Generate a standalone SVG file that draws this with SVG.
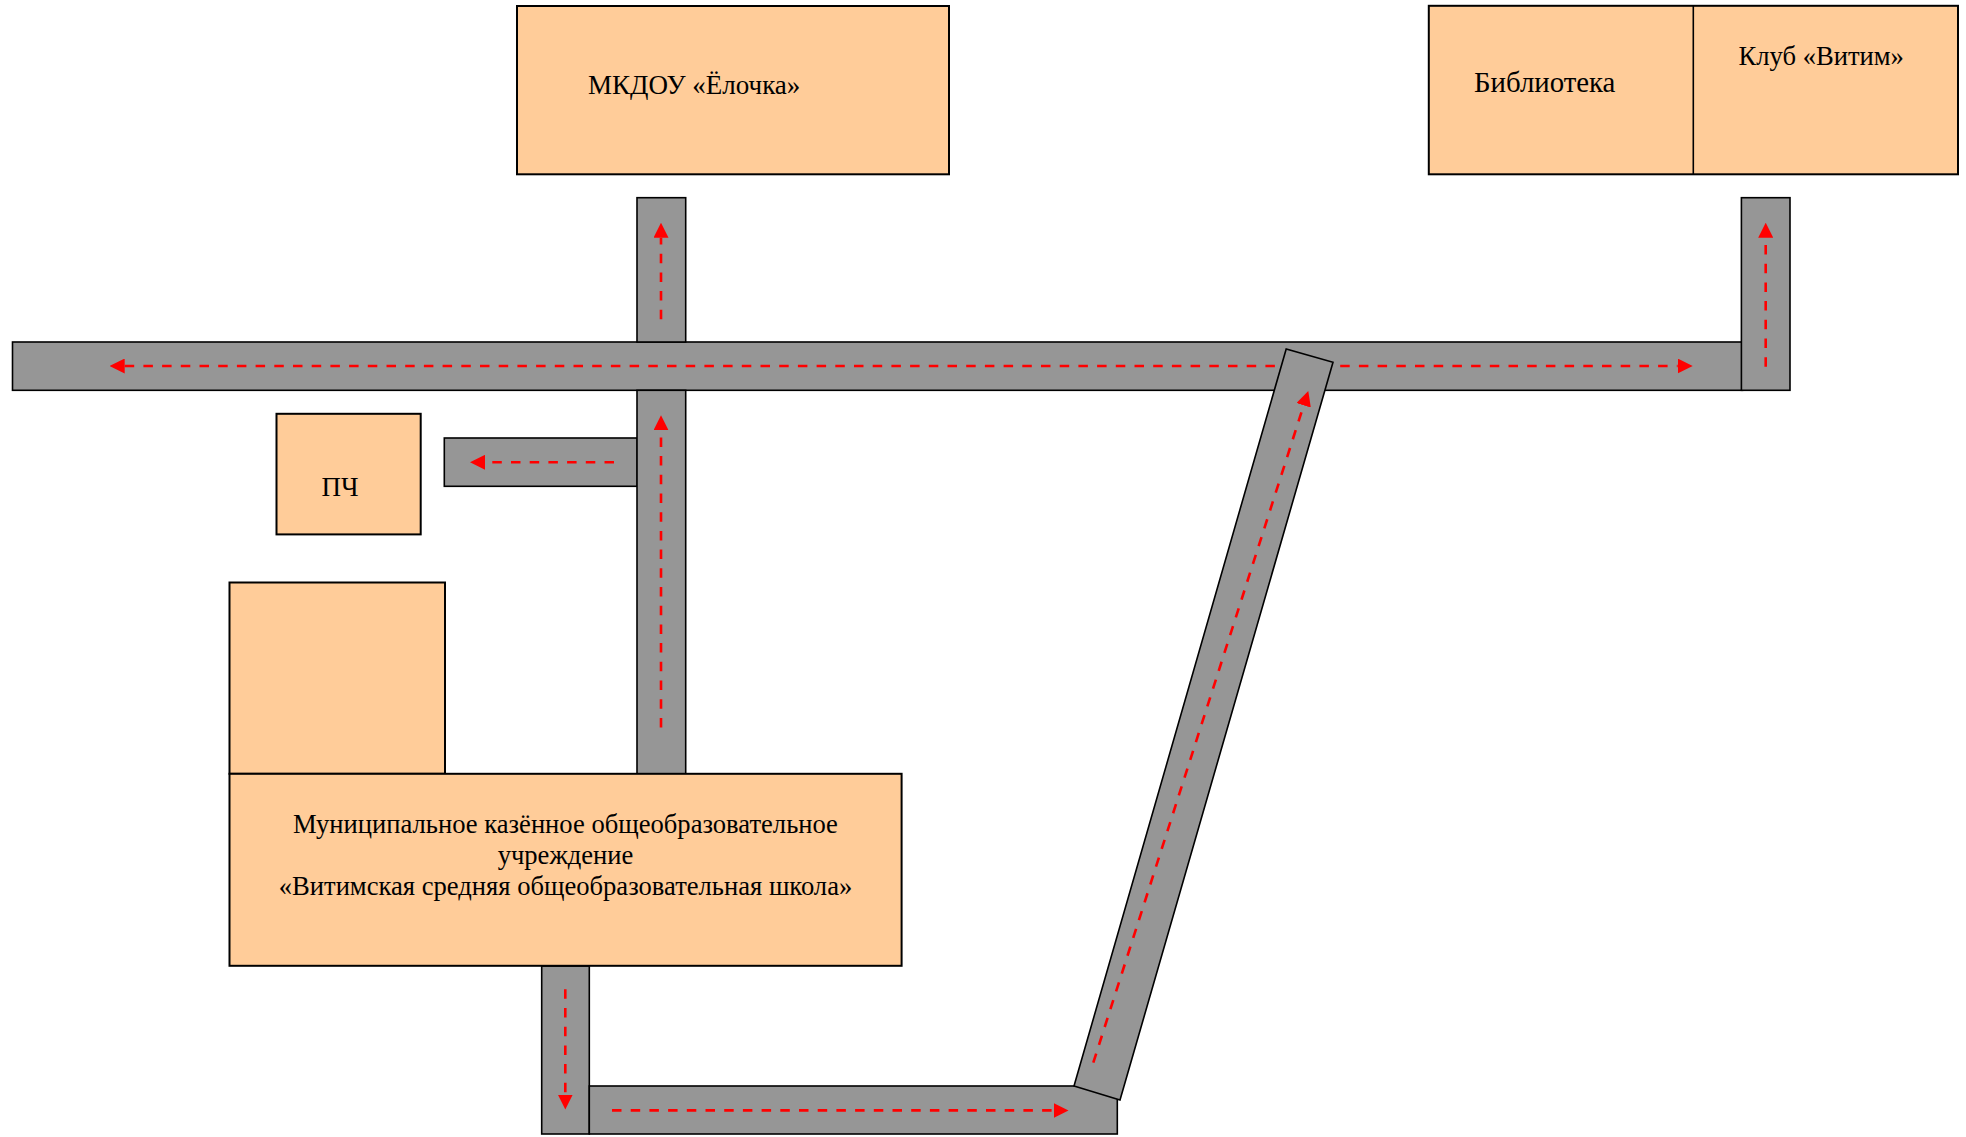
<svg xmlns="http://www.w3.org/2000/svg" width="1966" height="1137" viewBox="0 0 1966 1137">
<style>
.bld{fill:#FFCC99;stroke:#000;stroke-width:2}
.road{fill:#969696;stroke:#000;stroke-width:1.6}
.lbl{font-family:"Liberation Serif","Times New Roman",serif;fill:#000}
.dash{fill:none;stroke:#FF0000;stroke-width:2.6;stroke-dasharray:9.5 9.2}
</style>
<defs>
<marker id="ah" viewBox="0 0 15 15" refX="0" refY="7.5" markerWidth="15" markerHeight="15" markerUnits="userSpaceOnUse" orient="auto-start-reverse">
<path d="M0,0 L15,7.5 L0,15 z" fill="#FF0000"/>
</marker>
</defs>
<rect x="0" y="0" width="1966" height="1137" fill="#fff"/>
<g id="connectors">
<rect class="road" x="12.5" y="342" width="1730" height="48.3"/>
<line class="dash" x1="124.7" y1="366" x2="1677.7" y2="366" marker-start="url(#ah)" marker-end="url(#ah)"/>
<rect class="road" x="637" y="197.7" width="48.7" height="144.3"/>
<rect class="road" x="444.3" y="438" width="193" height="48.3"/>
<rect class="road" x="637" y="390.3" width="48.7" height="383.5"/>
<rect class="road" x="1741.4" y="197.7" width="48.6" height="192.6"/>
<rect class="road" x="541.7" y="966" width="47.6" height="168"/>
<rect class="road" x="589.3" y="1086" width="528" height="48"/>
<polygon class="road" points="1074,1086 1286.2,349 1333,362.3 1120,1100"/>
<line class="dash" x1="661" y1="319.3" x2="661" y2="237.7" marker-end="url(#ah)"/>
<line class="dash" x1="661" y1="727.4" x2="661" y2="430.3" marker-end="url(#ah)"/>
<line class="dash" x1="614" y1="462.3" x2="485" y2="462.3" marker-end="url(#ah)"/>
<line class="dash" x1="1765.7" y1="366.7" x2="1765.7" y2="237.7" marker-end="url(#ah)"/>
<line class="dash" x1="565.3" y1="989.3" x2="565.3" y2="1094.5" marker-end="url(#ah)"/>
<line class="dash" x1="612" y1="1110.4" x2="1053.5" y2="1110.4" marker-end="url(#ah)"/>
<line class="dash" x1="1093.3" y1="1062.6" x2="1303.7" y2="405.3" marker-end="url(#ah)"/>
</g>
<g id="mkdou">
<rect class="bld" x="517" y="6" width="432" height="168.3"/>
<text class="lbl" x="588" y="93.5" font-size="27">МКДОУ «Ёлочка»</text>
</g>
<g id="library-club">
<rect class="bld" x="1428.8" y="5.8" width="529.2" height="168.5"/>
<line x1="1693.3" y1="5.8" x2="1693.3" y2="174.3" stroke="#000" stroke-width="1.6"/>
<text class="lbl" x="1474" y="91.7" font-size="28.8">Библиотека</text>
<text class="lbl" x="1738.5" y="65.2" font-size="26.6">Клуб «Витим»</text>
</g>
<g id="pch">
<rect class="bld" x="276.5" y="413.8" width="144.2" height="120.6"/>
<text class="lbl" x="321.6" y="496.4" font-size="27">ПЧ</text>
</g>
<g id="annex">
<rect class="bld" x="229.5" y="582.5" width="215.5" height="191.3"/>
</g>
<g id="school">
<rect class="bld" x="229.5" y="773.8" width="672.1" height="192"/>
<text class="lbl" x="565.5" font-size="26.6" text-anchor="middle"><tspan x="565.5" y="833">Муниципальное казённое общеобразовательное</tspan><tspan x="565.5" y="864">учреждение</tspan><tspan x="565.5" y="894.5">«Витимская средняя общеобразовательная школа»</tspan></text>
</g>
</svg>
